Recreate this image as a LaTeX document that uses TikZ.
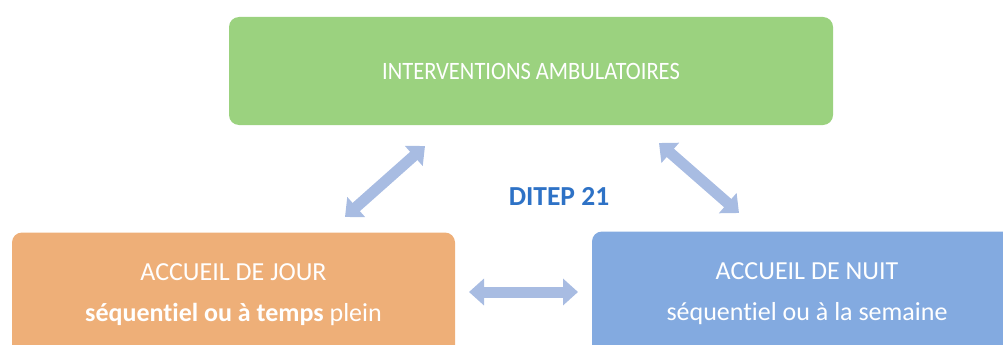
\documentclass[tikz,border=0pt]{standalone}
\usepackage{fontspec}
\setmainfont{Carlito}[Ligatures=NoCommon]
\usetikzlibrary{positioning,arrows.meta}

\definecolor{ambugreen}{HTML}{9BD27F}
\definecolor{jourorange}{HTML}{EEAF78}
\definecolor{nuitblue}{HTML}{83AAE0}
\definecolor{linkblue}{HTML}{A8BCE2}
\definecolor{titleblue}{HTML}{2E72C6}

\begin{document}
\begin{tikzpicture}[x=1pt,y=-1pt,
			boxnode/.style={rectangle, rounded corners=10pt, draw=none, text=white, align=center, font=\fontsize{26}{41}\selectfont},
			linkarrow/.style={draw=linkblue, line width=11pt, {Triangle[width=26pt,length=15pt]}-{Triangle[width=26pt,length=15pt]}},
			]
			\useasboundingbox (0,0) rectangle (1003,345);
			\clip (0,0) rectangle (1003,345);
			%Nodes
			\node[boxnode, fill=ambugreen, minimum width=604pt, minimum height=108pt, font=\fontsize{25}{30}\selectfont] (ambu) at (531,71) {\scalebox{0.9}[1]{INTERVENTIONS AMBULATOIRES}};
			\node[boxnode, fill=jourorange, minimum width=443pt, minimum height=125pt] (jour) at (233.5,295) {ACCUEIL DE JOUR\\ \textbf{séquentiel ou à temps} plein};
			\node[boxnode, fill=nuitblue, minimum width=430pt, minimum height=125pt] (nuit) at (807,294) {ACCUEIL DE NUIT\\ séquentiel ou à la semaine};
			\node[text=titleblue, font=\fontsize{27.5}{32}\bfseries\selectfont] (ditep) at (559,196) {DITEP 21};

			%Arrows
			\coordinate (ambuL) at (425,146);
			\coordinate (jourT) at (345,217);
			\coordinate (ambuR) at (659,143);
			\coordinate (nuitT) at (739,213);
			\coordinate (jourR) at (469,292);
			\coordinate (nuitL) at (578,292);
			\draw[linkarrow] (ambuL) -- (jourT);
			\draw[linkarrow] (ambuR) -- (nuitT);
			\draw[linkarrow] (jourR) -- (nuitL);
		\end{tikzpicture}
\end{document}
